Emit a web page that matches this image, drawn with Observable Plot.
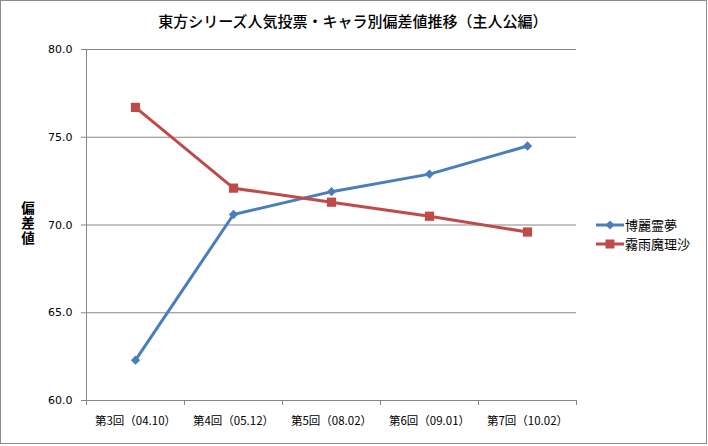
<!DOCTYPE html>
<html>
<head>
<meta charset="utf-8">
<script src="https://cdn.jsdelivr.net/npm/d3@7"></script>
<script src="https://cdn.jsdelivr.net/npm/@observablehq/plot@0.6"></script>
<style>
  html, body { margin: 0; padding: 0; background: #fff; }
  #wrap { position: relative; width: 708px; height: 446px; overflow: hidden; background: #fff; }
  #border { position: absolute; left: 0; top: 0; width: 707px; height: 444px; box-sizing: border-box; border: 1px solid #8c8c8c; pointer-events: none; }
  #title { position: absolute; left: 0; top: 11px; width: 706px; text-align: center; font-family: "Noto Sans CJK JP", sans-serif; font-weight: 500; font-size: 15px; line-height: 20px; color: #000; }
  #ytitle { position: absolute; left: 20px; top: 201px; font-family: "Noto Sans CJK JP", sans-serif; font-weight: bold; font-size: 13.5px; line-height: 16px; letter-spacing: 1.5px; color: #000; writing-mode: vertical-rl; text-orientation: upright; }
  #legend { position: absolute; left: 595px; top: 215px; font-family: "Noto Sans CJK JP", sans-serif; font-size: 13px; color: #000; }
  .row { height: 19px; display: flex; align-items: center; }
  .row span { line-height: 1; }
  .row svg { margin-right: 1px; }
  #chart { position: absolute; left: 0; top: 0; }
</style>
</head>
<body>
<div id="wrap">
  <div id="chart"></div>
  <div id="title"></div>
  <div id="ytitle"></div>
  <div id="legend"></div>
  <div id="border"></div>
</div>
<script>
const titleText = "東方シリーズ人気投票・キャラ別偏差値推移（主人公編）";
const yTitle = "偏差値";
const categories = ["第3回（04.10）", "第4回（05.12）", "第5回（08.02）", "第6回（09.01）", "第7回（10.02）"];
const seriesNames = ["博麗霊夢", "霧雨魔理沙"];
const reimu = [62.3, 70.6, 71.9, 72.9, 74.5];
const marisa = [76.7, 72.1, 71.3, 70.5, 69.6];
const yTicks = [60, 65, 70, 75, 80];
const colors = ["#4A7EBB", "#BE4B48"];

const data = [];
categories.forEach((c, i) => {
  data.push({cat: c, series: seriesNames[0], value: reimu[i]});
  data.push({cat: c, series: seriesNames[1], value: marisa[i]});
});

document.getElementById("title").textContent = titleText;
document.getElementById("ytitle").textContent = yTitle;

const axisGray = "#868686";

const chart = Plot.plot({
  width: 708,
  height: 446,
  marginTop: 49,
  marginBottom: 46,
  marginLeft: 86,
  marginRight: 132,
  style: {fontFamily: "DejaVu Sans, sans-serif", fontSize: "11px", background: "transparent", overflow: "visible"},
  x: {type: "band", domain: categories, padding: 0, label: null},
  y: {domain: [60, 80], label: null},
  color: {domain: seriesNames, range: colors},
  marks: [
    Plot.gridY(yTicks.filter(d => d > 60), {stroke: axisGray, strokeOpacity: 1, strokeWidth: 1}),
    Plot.ruleY([60], {stroke: axisGray, strokeWidth: 1}),
    Plot.axisY(yTicks, {tickSize: 5, tickPadding: 9, tickFormat: d3.format(".1f"), stroke: axisGray, fill: "#000", fontSize: 11}),
    Plot.axisX({tickSize: 0, tickPadding: 16, fill: "#000", fontSize: 11.5, fontFamily: "Noto Sans CJK JP, sans-serif"}),
    Plot.line(data, {x: "cat", y: "value", z: "series", stroke: "series", strokeWidth: 3, strokeLinejoin: "round"}),
    Plot.dot(data.filter(d => d.series === seriesNames[0]), {x: "cat", y: "value", fill: "series", symbol: "diamond2", r: 4.2, stroke: "none"}),
    Plot.dot(data.filter(d => d.series === seriesNames[1]), {x: "cat", y: "value", fill: "series", symbol: "square", r: 5.2, stroke: "none"})
  ]
});
document.getElementById("chart").appendChild(chart);

// band-edge tick marks and left axis line, positioned with Plot's scales
const sx = chart.scale("x");
const sy = chart.scale("y");
const svg = d3.select(chart);
const edges = categories.map(c => sx.apply(c));
edges.push(sx.apply(categories[categories.length - 1]) + sx.bandwidth);
const y0 = sy.apply(60), y1 = sy.apply(80);
const g = svg.append("g").attr("stroke", axisGray).attr("stroke-width", 1).attr("shape-rendering", "crispEdges");
g.append("line").attr("x1", edges[0]).attr("x2", edges[0]).attr("y1", y1).attr("y2", y0);
edges.forEach(x => g.append("line").attr("x1", x).attr("x2", x).attr("y1", y0).attr("y2", y0 + 5));

// legend
const legend = document.getElementById("legend");
seriesNames.forEach((name, i) => {
  const row = document.createElement("div");
  row.className = "row";
  const marker = i === 0
    ? `<path d="M15,4.5 L19.5,9 L15,13.5 L10.5,9 Z" fill="${colors[i]}"/>`
    : `<rect x="10.5" y="4.5" width="9" height="9" fill="${colors[i]}"/>`;
  row.innerHTML = `<svg width="29" height="18"><line x1="1" x2="29" y1="9" y2="9" stroke="${colors[i]}" stroke-width="3"/>${marker}</svg><span>${name}</span>`;
  legend.appendChild(row);
});
</script>
</body>
</html>
